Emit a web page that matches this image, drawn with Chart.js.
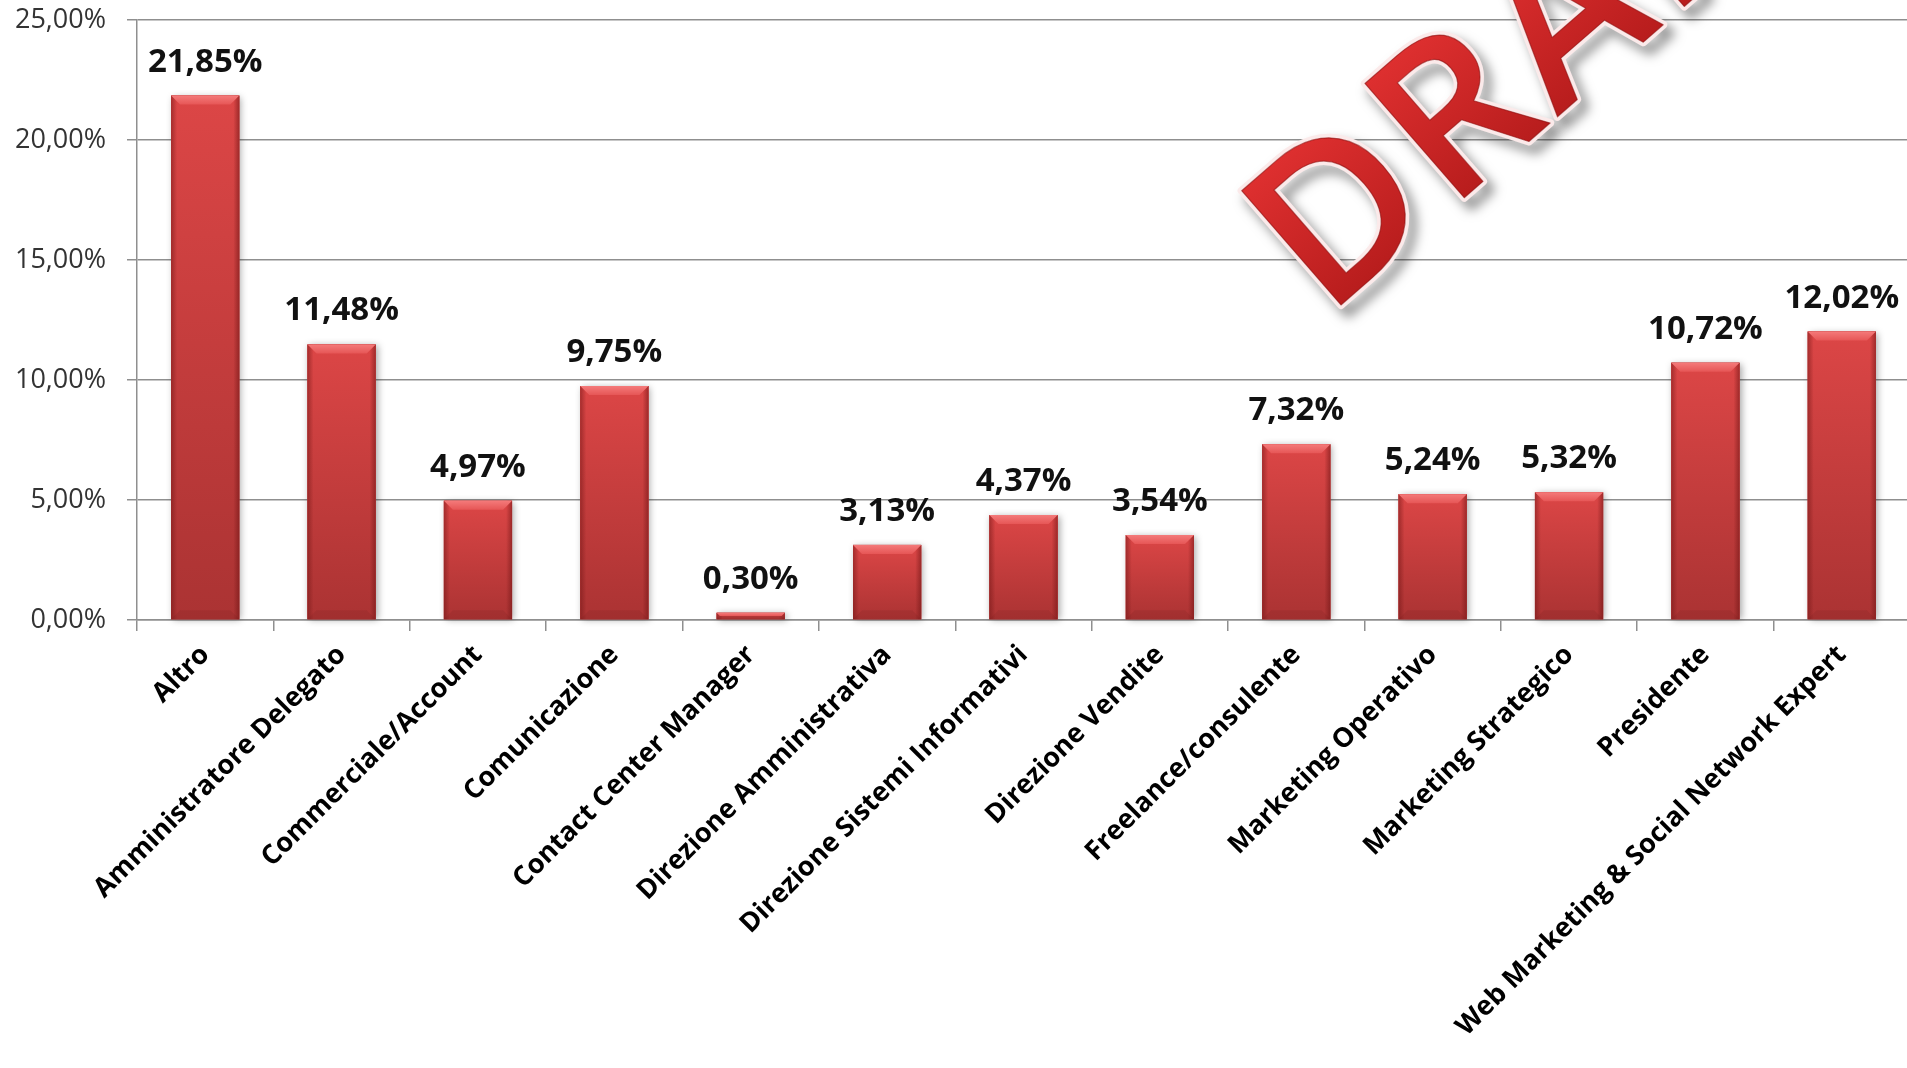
<!DOCTYPE html>
<html>
<head>
<meta charset="utf-8">
<title>Ruoli</title>
<script src="https://cdn.jsdelivr.net/npm/chart.js@4/dist/chart.umd.min.js"></script>
<style>
  html, body { margin: 0; padding: 0; background: #fff; overflow: hidden; }
  #wrap { width: 1907px; height: 1068px; overflow: hidden; }
</style>
</head>
<body>
<div id="wrap"><canvas id="chart" width="1912" height="1068"></canvas></div>
<script>
const categories = [
  "Altro", "Amministratore Delegato", "Commerciale/Account", "Comunicazione",
  "Contact Center Manager", "Direzione Amministrativa", "Direzione Sistemi Informativi",
  "Direzione Vendite", "Freelance/consulente", "Marketing Operativo",
  "Marketing Strategico", "Presidente", "Web Marketing & Social Network Expert"
];
const shares = [21.85, 11.48, 4.97, 9.75, 0.30, 3.13, 4.37, 3.54, 7.32, 5.24, 5.32, 10.72, 12.02];
const yTicks = [0, 5, 10, 15, 20, 25];
const watermark = "DRAFT";

const FONT = '"Open Sans", "Noto Sans", sans-serif';
const GRID = "#8f8f8f";

function pctLabel(v) {
  return v.toFixed(2).replace(".", ",") + "%";
}

// soft shadow behind each bar
const barShadow = {
  id: "barShadow",
  beforeDatasetsDraw(chart) {
    const ctx = chart.ctx;
    const bars = chart.getDatasetMeta(0).data;
    ctx.save();
    ctx.shadowColor = "rgba(0,0,0,0.35)";
    ctx.shadowBlur = 7;
    ctx.shadowOffsetX = 2;
    ctx.shadowOffsetY = 1;
    ctx.fillStyle = "#b03535";
    bars.forEach(b => {
      ctx.fillRect(b.x - b.width / 2, b.y, b.width, b.base - b.y);
    });
    ctx.restore();
  }
};

// bevel look on the bars + value labels
const barBevel = {
  id: "barBevel",
  afterDatasetsDraw(chart) {
    const ctx = chart.ctx;
    const bars = chart.getDatasetMeta(0).data;
    ctx.save();
    bars.forEach((b, i) => {
      const l = b.x - b.width / 2, r = b.x + b.width / 2, t = b.y, btm = b.base;
      const h = btm - t;
      const bv = Math.min(9, h / 2);

      const body = ctx.createLinearGradient(0, t, 0, btm);
      body.addColorStop(0, "#dc4646");
      body.addColorStop(1, "#ab3333");
      ctx.fillStyle = body;
      ctx.fillRect(l, t, r - l, h);

      // side edges
      const le = ctx.createLinearGradient(l, 0, l + 6, 0);
      le.addColorStop(0, "rgba(110,20,20,0.5)");
      le.addColorStop(1, "rgba(110,20,20,0)");
      ctx.fillStyle = le;
      ctx.fillRect(l, t, 6, h);
      const re = ctx.createLinearGradient(r, 0, r - 6, 0);
      re.addColorStop(0, "rgba(110,20,20,0.55)");
      re.addColorStop(1, "rgba(110,20,20,0)");
      ctx.fillStyle = re;
      ctx.fillRect(r - 6, t, 6, h);

      // bottom bevel
      ctx.fillStyle = "rgba(110,25,25,0.15)";
      ctx.beginPath();
      ctx.moveTo(l, btm); ctx.lineTo(r, btm);
      ctx.lineTo(r - bv, btm - bv); ctx.lineTo(l + bv, btm - bv);
      ctx.closePath(); ctx.fill();

      // top bevel
      const tg = ctx.createLinearGradient(0, t, 0, t + bv);
      tg.addColorStop(0, "#f47a7a");
      tg.addColorStop(1, "#e65656");
      ctx.fillStyle = tg;
      ctx.beginPath();
      ctx.moveTo(l, t); ctx.lineTo(r, t);
      ctx.lineTo(r - bv, t + bv); ctx.lineTo(l + bv, t + bv);
      ctx.closePath(); ctx.fill();

      // value label
      ctx.fillStyle = "#111";
      ctx.font = "bold 33px " + FONT;
      ctx.textAlign = "center";
      ctx.textBaseline = "alphabetic";
      ctx.fillText(pctLabel(shares[i]), b.x, t - 24);
    });
    ctx.restore();
  }
};

// DRAFT stamp
const draftStamp = {
  id: "draftStamp",
  afterDraw(chart) {
    const ctx = chart.ctx;
    ctx.save();
    ctx.translate(1326, 318);
    ctx.rotate(-41 * Math.PI / 180);
    ctx.font = "600 212px " + FONT;
    ctx.letterSpacing = "8px";
    ctx.textAlign = "left";
    ctx.textBaseline = "alphabetic";
    ctx.lineJoin = "round";

    ctx.shadowColor = "rgba(0,0,0,0.5)";
    ctx.shadowBlur = 12;
    ctx.shadowOffsetX = 7;
    ctx.shadowOffsetY = 8;
    ctx.strokeStyle = "#fbeaea";
    ctx.lineWidth = 8;
    ctx.strokeText(watermark, 0, 0);

    ctx.shadowColor = "transparent";
    const g = ctx.createLinearGradient(0, -150, 0, 0);
    g.addColorStop(0, "#dd2f2f");
    g.addColorStop(1, "#b81d1d");
    ctx.fillStyle = g;
    ctx.fillText(watermark, 0, 0);
    ctx.strokeStyle = "rgba(140,15,15,0.6)";
    ctx.lineWidth = 1.2;
    ctx.strokeText(watermark, 0, 0);
    ctx.restore();
  }
};

new Chart(document.getElementById("chart"), {
  type: "bar",
  data: {
    labels: categories,
    datasets: [{
      data: shares,
      backgroundColor: "#c83d3d",
      borderWidth: 0,
      barPercentage: 0.5,
      categoryPercentage: 1.0
    }]
  },
  options: {
    responsive: false,
    devicePixelRatio: 1,
    animation: false,
    layout: { padding: { top: 0, right: 2, bottom: 0, left: 0 } },
    plugins: { legend: { display: false }, tooltip: { enabled: false } },
    scales: {
      x: {
        grid: { drawOnChartArea: false, drawTicks: true, tickLength: 11, color: GRID, lineWidth: 1.5, offset: true },
        border: { color: GRID, width: 1.5 },
        ticks: {
          autoSkip: false, minRotation: 45, maxRotation: 45, padding: 8,
          color: "#000", font: { family: FONT, size: 27, weight: "bold" }
        },
        afterFit(scale) { scale.height = 448; }
      },
      y: {
        min: 0, max: 25,
        afterBuildTicks(scale) { scale.ticks = yTicks.map(v => ({ value: v })); },
        grid: { color: GRID, lineWidth: 1.5, tickLength: 10 },
        border: { color: GRID, width: 1.5 },
        ticks: {
          padding: 21, color: "#333",
          font: { family: FONT, size: 27 },
          callback: v => pctLabel(v)
        },
        afterFit(scale) {
          scale.width = 137;
          scale.paddingTop = 20;
        }
      }
    }
  },
  plugins: [barShadow, barBevel, draftStamp]
});
</script>
</body>
</html>
